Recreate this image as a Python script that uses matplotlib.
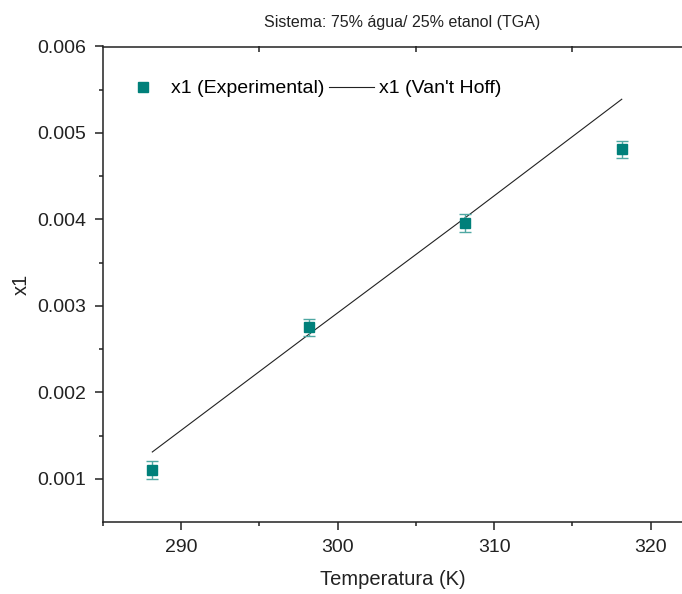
import matplotlib.pyplot as plt
from matplotlib.lines import Line2D

plt.rcParams['font.family'] = ['Liberation Sans', 'DejaVu Sans']

# dados experimentais e ajuste de Van't Hoff
temp = [288.15, 298.15, 308.15, 318.15]
x1_exp = [0.00110, 0.00275, 0.00396, 0.00481]
x1_err = [0.00010, 0.00010, 0.00010, 0.00010]
x1_vh = [0.00131, 0.00267, 0.00402, 0.00539]

teal = '#00807A'

fig = plt.figure(figsize=(6.82, 5.94), dpi=100)
ax = fig.add_axes([103/682, 72/594, 579/682, 475.5/594])

ax.plot(temp, x1_vh, '-', color='#222222', lw=0.8, zorder=2)
ax.errorbar(temp, x1_exp, yerr=x1_err, fmt='s', color=teal, ms=7.5, mec=teal,
            ecolor='#4FA8A3', elinewidth=1.0, capsize=4, capthick=1.0, zorder=3)

ax.set_xlim(285, 322)
ax.set_ylim(0.0005, 0.006)
ax.set_xticks([290, 300, 310, 320])
ax.set_xticks([285, 295, 305, 315], minor=True)
ax.set_yticks([0.001, 0.002, 0.003, 0.004, 0.005, 0.006])
ax.set_yticklabels(['0.001', '0.002', '0.003', '0.004', '0.005', '0.006'])
ax.set_yticks([0.0015, 0.0025, 0.0035, 0.0045, 0.0055], minor=True)

for s in ['left', 'bottom', 'top']:
    ax.spines[s].set_linewidth(1.1)
    ax.spines[s].set_color('#222222')
ax.spines['right'].set_visible(False)

ax.tick_params(which='major', direction='out', length=6, width=1.1, labelsize=14,
               colors='#222222', pad=6)
ax.tick_params(which='minor', direction='out', length=3, width=1.1, colors='#222222')
ax.tick_params(which='both', top=False, right=False)

# marcas no eixo superior
top = ax.secondary_xaxis('top')
top.set_xticks([295, 305, 315])
top.tick_params(direction='in', length=4, width=1.1, labelsize=0, colors='#222222')
top.set_xticklabels([])
top.spines['top'].set_visible(False)

ax.set_xlabel('Temperatura (K)', fontsize=14.5, color='#222222', labelpad=10)
ax.set_ylabel('x1', fontsize=14.5, color='#222222', labelpad=5)
ax.set_title("Sistema: 75% água/ 25% etanol (TGA)", fontsize=11.5, color='#222222',
             pad=14, x=0.517)

handles = [Line2D([], [], ls='none', marker='s', ms=7.5, color=teal),
           Line2D([], [], color='#222222', lw=0.8)]
ax.legend(handles, ['x1 (Experimental)', "x1 (Van't Hoff)"], ncol=2, frameon=False,
          fontsize=14, loc='upper left', bbox_to_anchor=(17.5/579, 0.93),
          handlelength=2.3, handletextpad=0.28, columnspacing=0.26,
          borderpad=0, borderaxespad=0)

fig.savefig('out.png', dpi=100)
